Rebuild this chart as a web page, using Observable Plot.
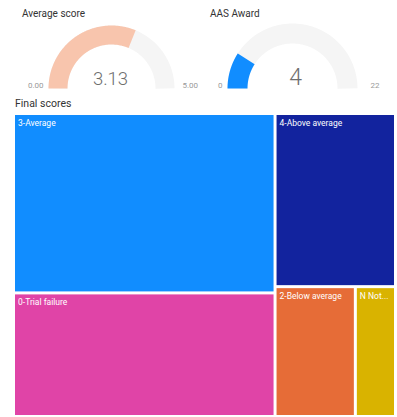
<!DOCTYPE html>
<html>
<head>
<meta charset="utf-8">
<script src="https://cdn.jsdelivr.net/npm/d3@7"></script>
<script src="https://cdn.jsdelivr.net/npm/@observablehq/plot@0.6"></script>
<style>
  html, body { margin: 0; padding: 0; background: #fff; }
  #root { position: relative; width: 397px; height: 417px; overflow: hidden; font-family: Roboto, "Open Sans", sans-serif; }
  .title { position: absolute; color: #333333; font-size: 10px; white-space: nowrap; line-height: 1; }
  .chart { position: absolute; }
</style>
</head>
<body>
<div id="root"></div>
<script>
// ---- Data: gauges ----
const gaugeTitles = ["Average score", "AAS Award"];
const gaugeValues = [3.13, 4];
const gaugeMins = [0, 0];
const gaugeMaxs = [5, 22];
const gaugeMinLabels = ["0.00", "0"];
const gaugeMaxLabels = ["5.00", "22"];
const gaugeValueLabels = ["3.13", "4"];
const gaugeColors = ["#F8C5AD", "#118DFF"];

// ---- Data: treemap ----
const treemapTitle = "Final scores";
const categories = ["3-Average", "0-Trial failure", "4-Above average", "2-Below average", "N Not..."];
const counts = [45, 31, 20, 10, 5];
const categoryColors = ["#118DFF", "#E044A7", "#12239E", "#E66C37", "#D9B300"];
const groupLevel1 = ["L", "L", "R", "R", "R"];
const groupLevel2 = [null, null, null, "RB", "RB"];

// ---- Layout config (not data) ----
const gaugeLayout = [
  {left: 0, width: 200, cx: 111, cy: 88, R: 63, thick: 19, titleX: 22, minDx: -5, maxDx: 8, valDx: -1, valDy: -9.5, valSize: 18.5},
  {left: 197, width: 200, cx: 95, cy: 88, R: 65, thick: 20, titleX: 13, minDx: -5, maxDx: 13, valDx: 3, valDy: -11, valSize: 23}
];

const root = document.getElementById("root");

function addTitle(text, x, y, size) {
  const d = document.createElement("div");
  d.className = "title";
  d.textContent = text;
  d.style.left = x + "px";
  d.style.top = y + "px";
  if (size) d.style.fontSize = size + "px";
  root.appendChild(d);
}

function arcPoints(f0, f1, r) {
  const n = 80, pts = [];
  for (let i = 0; i <= n; i++) {
    const f = f0 + (f1 - f0) * i / n;
    const t = Math.PI * (1 - f);
    pts.push({x: r * Math.cos(t), y: r * Math.sin(t)});
  }
  return pts;
}

gaugeTitles.forEach((title, i) => {
  const L = gaugeLayout[i];
  const frac = (gaugeValues[i] - gaugeMins[i]) / (gaugeMaxs[i] - gaugeMins[i]);
  const inner = (L.R - L.thick) / L.R;
  const rMid = (1 + inner) / 2;
  const chart = Plot.plot({
    width: L.width, height: 100,
    marginTop: 0, marginRight: 0, marginBottom: 0, marginLeft: 0,
    x: {domain: [-1, 1], range: [L.cx - L.R, L.cx + L.R], axis: null},
    y: {domain: [0, 1], range: [L.cy, L.cy - L.R], axis: null},
    style: {background: "transparent", fontFamily: "Roboto, sans-serif"},
    marks: [
      Plot.line(arcPoints(0, 1, rMid), {x: "x", y: "y", stroke: "#F5F5F5", strokeWidth: L.thick, strokeLinecap: "butt", strokeLinejoin: "miter"}),
      Plot.line(arcPoints(0, frac, rMid), {x: "x", y: "y", stroke: gaugeColors[i], strokeWidth: L.thick, strokeLinecap: "butt", strokeLinejoin: "miter"}),
      Plot.text([gaugeMinLabels[i]], {x: -1, y: 0, text: d => d, textAnchor: "end", dx: L.minDx, dy: -3, fontSize: 8, fill: "#9a9a9a"}),
      Plot.text([gaugeMaxLabels[i]], {x: 1, y: 0, text: d => d, textAnchor: "start", dx: L.maxDx, dy: -3, fontSize: 8, fill: "#9a9a9a"}),
      Plot.text([gaugeValueLabels[i]], {x: 0, y: 0, text: d => d, textAnchor: "middle", dx: L.valDx, dy: L.valDy, fontSize: L.valSize, fontWeight: 300, fill: "#6e6e6e"})
    ]
  });
  chart.classList.add("chart");
  chart.style.left = L.left + "px";
  chart.style.top = "0px";
  root.appendChild(chart);
  addTitle(title, L.left + L.titleX, 9);
});

// ---- Treemap ----
addTitle(treemapTitle, 15, 99, 10.5);

const items = categories.map((c, i) => ({name: c, value: counts[i], color: categoryColors[i], g1: groupLevel1[i], g2: groupLevel2[i]}));
function buildTree() {
  const rootNode = {name: "root", children: []};
  for (const it of items) {
    let g = rootNode.children.find(c => c.name === it.g1);
    if (!g) { g = {name: it.g1, children: []}; rootNode.children.push(g); }
    let parent = g;
    if (it.g2) {
      let g2 = g.children.find(c => c.name === it.g2);
      if (!g2) { g2 = {name: it.g2, children: []}; g.children.push(g2); }
      parent = g2;
    }
    parent.children.push(it);
  }
  return rootNode;
}
const hier = d3.hierarchy(buildTree()).sum(d => d.children ? 0 : d.value);
d3.treemap().tile(d3.treemapSliceDice).size([1, 1]).round(false)(hier);
const leaves = hier.leaves();

const tm = Plot.plot({
  width: 397, height: 313,
  marginLeft: 13.5, marginRight: 1.5, marginTop: 9.5, marginBottom: 0.5,
  x: {domain: [0, 1], axis: null},
  y: {domain: [0, 1], reverse: true, axis: null},
  style: {background: "transparent", fontFamily: "Roboto, sans-serif"},
  marks: [
    Plot.rect(leaves, {x1: d => d.x0, x2: d => d.x1, y1: d => d.y0, y2: d => d.y1, fill: d => d.data.color, inset: 1.5}),
    Plot.text(leaves, {x: d => d.x0, y: d => d.y0, text: d => d.data.name, textAnchor: "start", lineAnchor: "top", dx: 4, dy: 6, fill: "white", fontSize: 8.5})
  ]
});
tm.classList.add("chart");
tm.style.left = "0px";
tm.style.top = "104px";
root.appendChild(tm);
</script>
</body>
</html>
